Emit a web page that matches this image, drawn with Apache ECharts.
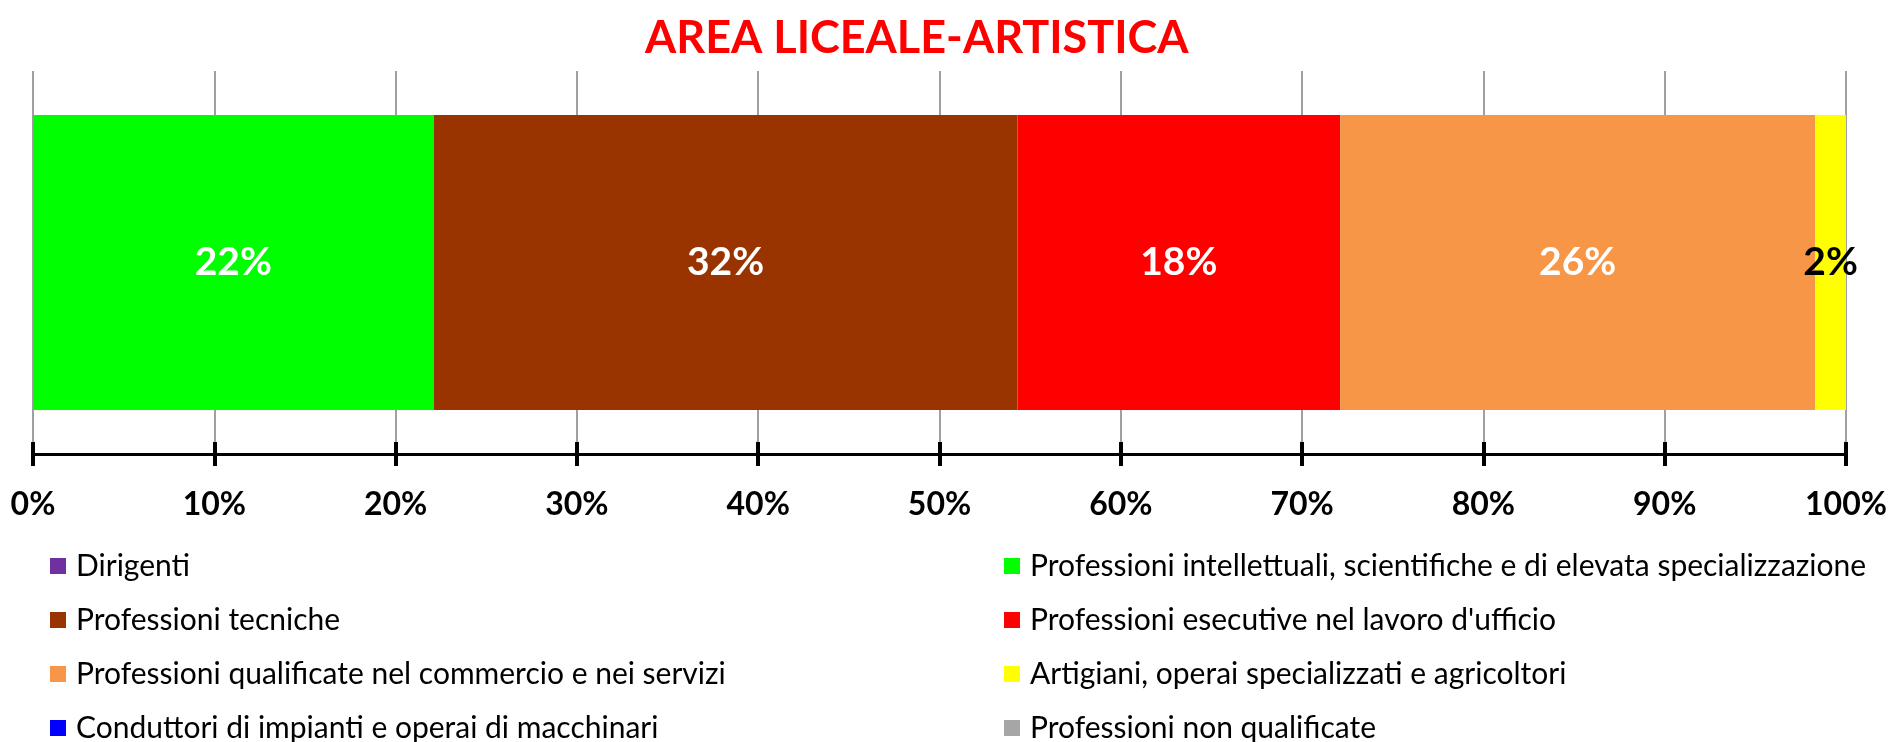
<!DOCTYPE html>
<html lang="it">

<head>
    <meta charset="UTF-8">
    <title>AREA LICEALE-ARTISTICA</title>
    <script src="https://cdn.jsdelivr.net/npm/echarts@6/dist/echarts.min.js"></script>
    <style>
        html, body { margin: 0; padding: 0; background: #fff; }
        #chart { width: 1894px; height: 742px; }
    </style>
</head>

<body>
    <div id="chart"></div>
</body>
<script>
    // dati (percentuali)
    var categorie = ["Area"];
    var professioni = [
        "Dirigenti",
        "Professioni intellettuali, scientifiche e di elevata specializzazione",
        "Professioni tecniche",
        "Professioni esecutive nel lavoro d'ufficio",
        "Professioni qualificate nel commercio e nei servizi",
        "Artigiani, operai specializzati e agricoltori",
        "Conduttori di impianti e operai di macchinari",
        "Professioni non qualificate"
    ];
    var valori = [0, 22.1, 32.2, 17.8, 26.2, 1.7, 0, 0];
    var colori = ["#7030a0", "#00ff00", "#993300", "#ff0000", "#f79646", "#ffff00", "#0000ff", "#a6a6a6"];
    var coloriEtichette = ["#fff", "#fff", "#fff", "#fff", "#fff", "#000", "#fff", "#fff"];
    var tacche = [0, 10, 20, 30, 40, 50, 60, 70, 80, 90, 100];

    var font = "Lato";
    var chart = echarts.init(document.getElementById("chart"));

    var series = professioni.map(function (nome, i) {
        return {
            name: nome,
            type: "bar",
            stack: "tot",
            barWidth: 295,
            itemStyle: { color: colori[i] },
            label: {
                show: true,
                position: "inside",
                color: coloriEtichette[i],
                fontFamily: font,
                fontWeight: "bold",
                fontSize: 39,
                formatter: function (p) {
                    return p.value > 0 ? Math.round(p.value) + "%" : "";
                }
            },
            data: [valori[i]]
        };
    });

    // legenda su due colonne: indici pari a sinistra, dispari a destra
    function legenda(left, pari) {
        return {
            orient: "vertical",
            left: left,
            top: 546,
            height: 260,
            icon: "rect",
            itemWidth: 16,
            itemHeight: 16,
            itemGap: 24,
            selectedMode: false,
            textStyle: {
                fontFamily: font,
                fontSize: 30,
                lineHeight: 30,
                color: "#000",
                padding: [0, 0, 0, 5]
            },
            data: professioni.filter(function (n, i) { return (i % 2 === 0) === pari; })
        };
    }

    var option = {
        animation: false,
        title: {
            text: "AREA LICEALE-ARTISTICA",
            left: 640,
            top: 11,
            textStyle: {
                color: "#ff0000",
                fontFamily: font,
                fontWeight: "bold",
                fontSize: 45
            }
        },
        legend: [legenda(45, true), legenda(999, false)],
        grid: {
            left: 33,
            right: 48,
            top: 71,
            bottom: 288
        },
        xAxis: [{
            type: "value",
            min: tacche[0],
            max: tacche[tacche.length - 1],
            interval: tacche[1] - tacche[0],
            position: "bottom",
            axisLine: { show: true, lineStyle: { color: "#000", width: 3 } },
            axisTick: { show: true, length: 12, lineStyle: { color: "#000", width: 4 } },
            axisLabel: {
                margin: 35,
                color: "#000",
                fontFamily: font,
                fontWeight: "bold",
                fontSize: 32,
                formatter: "{value}%"
            },
            splitLine: { show: true, lineStyle: { color: "#a0a0a0", width: 2 } }
        }, {
            // seconda serie di tacche verso l'interno (tacche incrociate)
            type: "value",
            min: tacche[0],
            max: tacche[tacche.length - 1],
            interval: tacche[1] - tacche[0],
            position: "bottom",
            axisLine: { show: false },
            axisTick: { show: true, inside: true, length: 12, lineStyle: { color: "#000", width: 4 } },
            axisLabel: { show: false },
            splitLine: { show: false }
        }],
        yAxis: {
            type: "category",
            data: categorie,
            show: false
        },
        series: series
    };
    chart.setOption(option);
</script>

</html>
